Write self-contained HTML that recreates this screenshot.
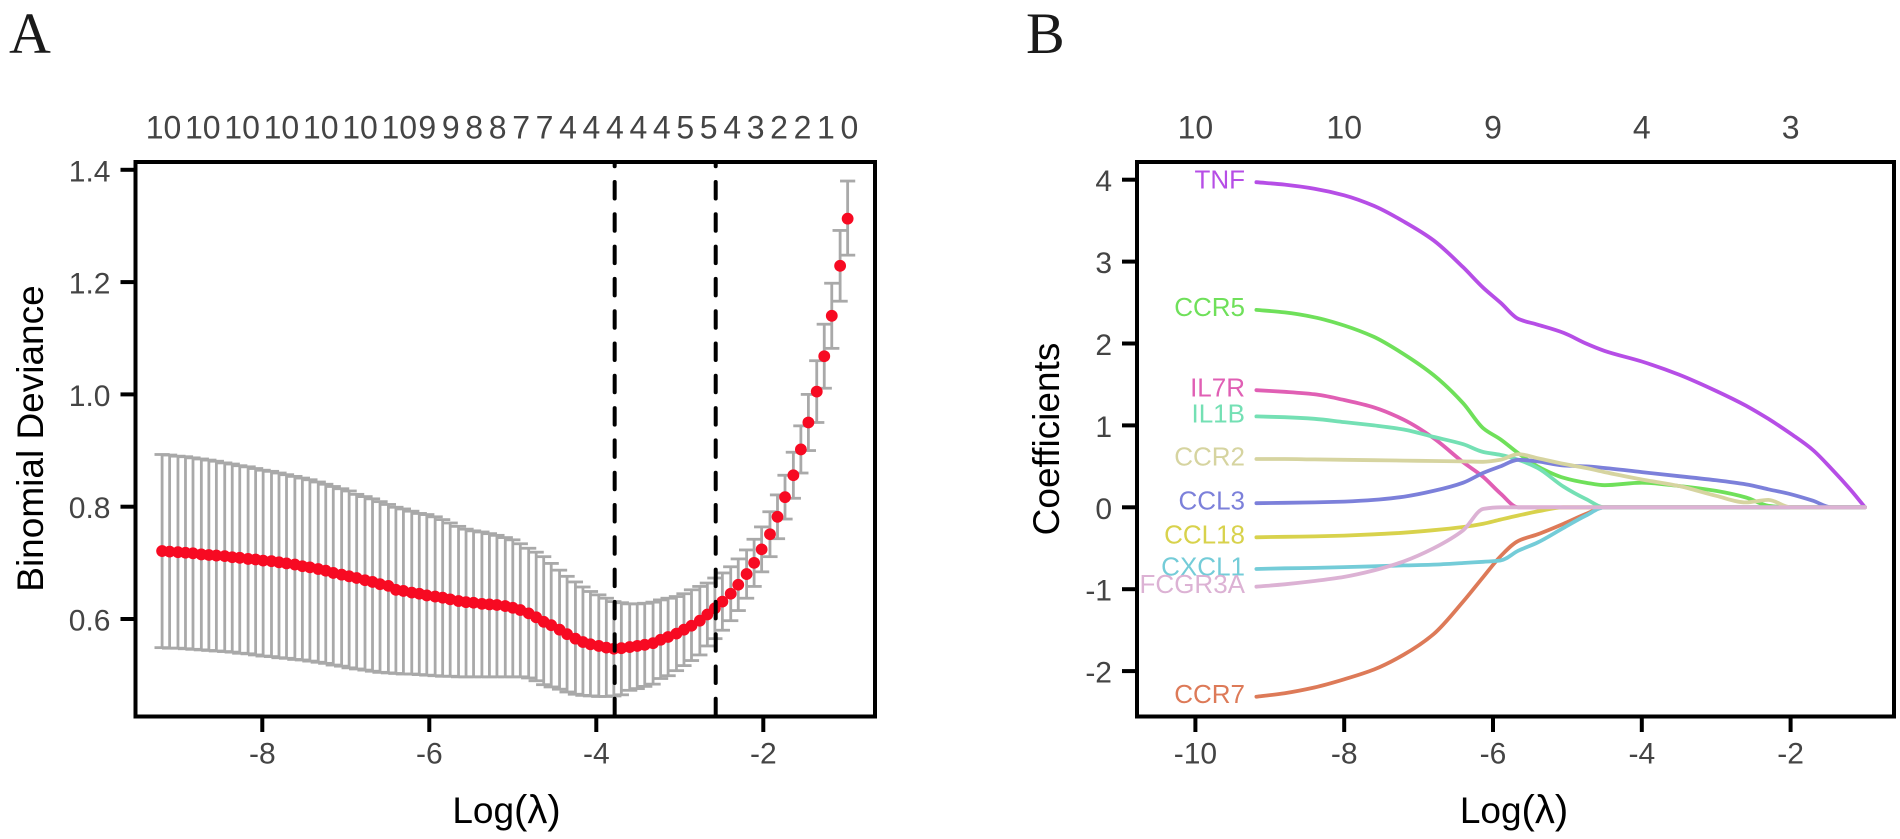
<!DOCTYPE html>
<html lang="en">
<head>
<meta charset="utf-8">
<title>LASSO regression panels</title>
<style>
  html,body{margin:0;padding:0;background:#fff;}
  svg{display:block;font-family:"Liberation Sans",sans-serif;}
</style>
</head>
<body>
<svg id="figure" xmlns="http://www.w3.org/2000/svg" width="1900" height="839" viewBox="0 0 1900 839">
  <rect x="0" y="0" width="1900" height="839" fill="#fff"/>
  <text x="9" y="53" font-family="Liberation Serif, serif" font-size="58" fill="#1a1a1a">A</text>
  <text x="1026" y="53" font-family="Liberation Serif, serif" font-size="58" fill="#1a1a1a">B</text>
  <g id="panelA"></g>
  <g id="panelB"></g>
  <text x="506.5" y="823" font-size="37" text-anchor="middle" fill="#000">Log<tspan font-size="40">(λ)</tspan></text>
  <text x="1514" y="823" font-size="37" text-anchor="middle" fill="#000">Log<tspan font-size="40">(λ)</tspan></text>
  <text transform="translate(43,438.5) rotate(-90)" font-size="37" text-anchor="middle" fill="#000">Binomial Deviance</text>
  <text transform="translate(1059,439) rotate(-90)" font-size="37" text-anchor="middle" fill="#000">Coefficients</text>
</svg>
<script>
// ---------- Panel A data ----------
const cvLogLambda = [-9.20,-9.11,-9.01,-8.92,-8.83,-8.73,-8.64,-8.55,-8.45,-8.36,
  -8.27,-8.17,-8.08,-7.99,-7.89,-7.80,-7.71,-7.61,-7.52,-7.43,
  -7.33,-7.24,-7.15,-7.05,-6.96,-6.87,-6.77,-6.68,-6.59,-6.49,
  -6.40,-6.31,-6.21,-6.12,-6.03,-5.93,-5.84,-5.75,-5.65,-5.56,
  -5.47,-5.37,-5.28,-5.19,-5.09,-5.00,-4.91,-4.81,-4.72,-4.63,
  -4.54,-4.44,-4.35,-4.25,-4.16,-4.07,-3.97,-3.88,-3.79,-3.70,
  -3.60,-3.51,-3.42,-3.32,-3.23,-3.14,-3.04,-2.95,-2.86,-2.76,
  -2.67,-2.58,-2.49,-2.39,-2.30,-2.20,-2.11,-2.02,-1.92,-1.83,
  -1.74,-1.64,-1.55,-1.46,-1.36,-1.27,-1.18,-1.08,-0.99];
const cvMean = [.721,.720,.719,.718,.717,.715,.714,.713,.712,.710,
  .709,.707,.706,.704,.703,.701,.699,.697,.694,.692,
  .689,.686,.682,.679,.676,.673,.669,.666,.662,.659,
  .652,.650,.647,.645,.642,.640,.638,.635,.632,.630,
  .629,.627,.626,.625,.623,.620,.616,.610,.603,.595,
  .589,.581,.573,.565,.559,.555,.552,.549,.547,.548,
  .550,.552,.554,.557,.563,.568,.574,.581,.588,.597,
  .608,.619,.631,.645,.661,.680,.700,.724,.751,.782,
  .817,.856,.902,.950,1.005,1.068,1.140,1.229,1.313];
const cvUpper = [.893,.892,.890,.889,.887,.885,.883,.881,.878,.876,
  .873,.871,.868,.865,.863,.860,.857,.854,.851,.848,
  .844,.840,.836,.832,.828,.822,.818,.814,.809,.804,
  .799,.796,.792,.788,.786,.782,.777,.771,.765,.760,
  .757,.755,.752,.749,.745,.741,.734,.726,.719,.711,
  .699,.687,.676,.666,.657,.649,.643,.637,.631,.629,
  .627,.627,.628,.630,.634,.637,.640,.645,.652,.658,
  .664,.673,.682,.693,.707,.723,.742,.764,.791,.821,
  .856,.897,.944,1.00,1.06,1.125,1.198,1.292,1.38];
const cvLower = [.549,.548,.548,.547,.546,.545,.544,.543,.542,.541,
  .539,.538,.536,.534,.533,.531,.530,.528,.527,.525,
  .523,.521,.518,.516,.513,.511,.509,.507,.505,.504,
  .503,.502,.502,.501,.500,.499,.498,.498,.497,.497,
  .497,.497,.497,.497,.497,.497,.497,.495,.490,.483,
  .479,.475,.470,.466,.464,.463,.462,.462,.463,.465,
  .473,.476,.480,.484,.494,.499,.508,.517,.526,.536,
  .552,.565,.580,.597,.615,.637,.658,.684,.711,.743,
  .778,.815,.860,.90,.95,1.011,1.082,1.166,1.248];
const cvReferenceLines = [-3.78,-2.57];
const cvXTicks = [-8,-6,-4,-2];
const cvYTicks = [0.6,0.8,1.0,1.2,1.4];
const cvTopCounts = ["10","10","10","10","10","10","10","9","9","8","8","7","7","4","4","4","4","4","5","5","4","3","2","2","1","0"];

// ---------- Panel B data ----------
const coefLogLambda = [-9.18,-8.8,-8.4,-8.0,-7.6,-7.2,-6.8,-6.4,-6.13,-5.9,-5.66,-5.4,-5.05,-4.75,-4.5,-4.0,-3.5,-3.0,-2.6,-2.3,-2.0,-1.7,-1.45,-1.2,-1.0];
const coefTNF    = [3.97,3.94,3.89,3.81,3.68,3.49,3.26,2.93,2.68,2.50,2.30,2.23,2.13,2.00,1.91,1.78,1.62,1.42,1.24,1.08,.90,.70,.47,.22,0];
const coefCCR7   = [-2.313,-2.27,-2.20,-2.10,-1.98,-1.80,-1.55,-1.15,-.85,-.60,-.41,-.33,-.20,-.08,0,0,0,0,0,0,0,0,0,0,0];
const coefIL7R   = [1.43,1.41,1.38,1.31,1.22,1.07,.845,.55,.37,.17,0,0,0,0,0,0,0,0,0,0,0,0,0,0,0];
const coefCCR5   = [2.41,2.38,2.32,2.22,2.08,1.87,1.615,1.27,.965,.83,.66,.50,.36,.30,.27,.30,.26,.20,.12,.02,0,0,0,0,0];
const coefIL1B   = [1.11,1.10,1.08,1.04,1.00,.95,.86,.77,.675,.64,.58,.48,.25,.10,0,0,0,0,0,0,0,0,0,0,0];
const coefCCL18  = [-.366,-.36,-.355,-.345,-.33,-.31,-.28,-.24,-.20,-.15,-.10,-.05,0,0,0,0,0,0,0,0,0,0,0,0,0];
const coefCXCL1  = [-.753,-.745,-.74,-.73,-.72,-.71,-.70,-.68,-.665,-.65,-.53,-.43,-.25,-.10,0,0,0,0,0,0,0,0,0,0,0];
const coefCCL3   = [.05,.055,.06,.07,.09,.13,.20,.30,.42,.50,.58,.56,.51,.50,.48,.43,.38,.33,.28,.22,.16,.08,0,0,0];
const coefCCR2   = [.59,.59,.585,.58,.575,.57,.565,.56,.555,.58,.65,.60,.53,.48,.43,.34,.26,.14,.06,.09,0,0,0,0,0];
const coefFCGR3A = [-.97,-.94,-.90,-.85,-.77,-.66,-.50,-.28,-.02,0,0,0,0,0,0,0,0,0,0,0,0,0,0,0,0];
const coefGenes  = ["TNF","CCR7","IL7R","CCR5","IL1B","CCL18","CXCL1","CCL3","CCR2","FCGR3A"];
const coefColors = ["#b64ee6","#dd7a58","#e05fb4","#6fe05a","#74e0b4","#d8d24c","#74ccd8","#7c80da","#d6d4a0","#dcb2d4"];
const coefSeries = [coefTNF,coefCCR7,coefIL7R,coefCCR5,coefIL1B,coefCCL18,coefCXCL1,coefCCL3,coefCCR2,coefFCGR3A];
const coefXTicks = [-10,-8,-6,-4,-2];
const coefYTicks = [-2,-1,0,1,2,3,4];
const coefTopCounts = ["10","10","9","4","3"];

// ---------- Scales ----------
const SVGNS = "http://www.w3.org/2000/svg";
function xA(v){ return 596.3 + (v + 4) * 83.5; }
function yA(v){ return 619 - (v - 0.6) * 561.5; }
function xB(v){ return 1493 + (v + 6) * 74.4; }
function yB(v){ return 507.3 - v * 81.9; }

function mk(parent, tag, attrs, text){
  const node = document.createElementNS(SVGNS, tag);
  for (const k in attrs) node.setAttribute(k, attrs[k]);
  if (text !== undefined) node.textContent = text;
  parent.appendChild(node);
  return node;
}
// Monotone cubic path through the mapped data points (no overshoot at the zero joins)
function monotonePath(px, py){
  const n = px.length, dx = [], m = [], t = [];
  for (let i = 0; i < n - 1; i++){ dx[i] = px[i+1] - px[i]; m[i] = (py[i+1] - py[i]) / dx[i]; }
  t[0] = m[0]; t[n-1] = m[n-2];
  for (let i = 1; i < n - 1; i++){
    if (m[i-1] * m[i] <= 0) t[i] = 0;
    else {
      const w1 = 2 * dx[i] + dx[i-1], w2 = dx[i] + 2 * dx[i-1];
      t[i] = (w1 + w2) / (w1 / m[i-1] + w2 / m[i]);
    }
  }
  let d = "M" + px[0].toFixed(1) + " " + py[0].toFixed(1);
  for (let i = 0; i < n - 1; i++){
    const h = dx[i] / 3;
    d += "C" + (px[i]+h).toFixed(1) + " " + (py[i]+t[i]*h).toFixed(1) + " " +
         (px[i+1]-h).toFixed(1) + " " + (py[i+1]-t[i+1]*h).toFixed(1) + " " +
         px[i+1].toFixed(1) + " " + py[i+1].toFixed(1);
  }
  return d;
}
const panelA = document.getElementById("panelA");
const panelB = document.getElementById("panelB");
const INK = "#444";
let el;

// ---------- Panel A ----------
cvLogLambda.forEach(function(v, i){
  const x = xA(v);
  el = mk(panelA, "line", {x1:x, x2:x, y1:yA(cvLower[i]), y2:yA(cvUpper[i]), stroke:"#a9a9a9", "stroke-width":2.8});
  
  
  el = mk(panelA, "line", {x1:x-7.6, x2:x+7.6, y1:yA(cvUpper[i]), y2:yA(cvUpper[i]), stroke:"#a9a9a9", "stroke-width":2.8});
  
  
  el = mk(panelA, "line", {x1:x-7.6, x2:x+7.6, y1:yA(cvLower[i]), y2:yA(cvLower[i]), stroke:"#a9a9a9", "stroke-width":2.8});
  
  
});
cvLogLambda.forEach(function(v, i){
  el = mk(panelA, "circle", {cx:xA(v), cy:yA(cvMean[i]), r:5.9, fill:"#f70a22"});
  
  
});
cvReferenceLines.forEach(function(v){
  el = mk(panelA, "line", {x1:xA(v), x2:xA(v), y1:162, y2:717, stroke:"#000", "stroke-width":4, "stroke-linecap":"round", "stroke-dasharray":"16.5 15.8", "stroke-dashoffset":12.3});
  
  
});
el = mk(panelA, "rect", {x:135.5, y:162, width:739.5, height:554.5, fill:"none", stroke:"#000", "stroke-width":4});


cvXTicks.forEach(function(v){
  el = mk(panelA, "line", {x1:xA(v), x2:xA(v), y1:716, y2:732, stroke:"#000", "stroke-width":4});
  
  
  el = mk(panelA, "text", {x:xA(v), y:763.5, "font-size":30, "text-anchor":"middle", fill:INK}, String(v));
  
  
});
cvYTicks.forEach(function(v){
  el = mk(panelA, "line", {x1:120.5, x2:135, y1:yA(v), y2:yA(v), stroke:"#000", "stroke-width":4});
  
  
  el = mk(panelA, "text", {x:110.5, y:yA(v)+11.5, "font-size":30, "text-anchor":"end", fill:INK}, v.toFixed(1));
  
  
});
let cursor = 163.5;
cvTopCounts.forEach(function(label, i){
  el = mk(panelA, "text", {x:cursor, y:138.5, "font-size":32, "text-anchor":"middle", fill:INK}, label);
  
  
  const next = cvTopCounts[i + 1];
  cursor += (label.length === 2 && next && next.length === 2) ? 39.3 : (label.length === 2 ? 28 : 23.45);
});

// ---------- Panel B ----------
coefSeries.forEach(function(series, s){
  el = mk(panelB, "path", {d:monotonePath(coefLogLambda.map(xB), series.map(yB)), fill:"none", stroke:coefColors[s], "stroke-width":3.8, "stroke-linejoin":"round", "stroke-linecap":"round"});
  
  
});
coefSeries.forEach(function(series, s){
  el = mk(panelB, "text", {x:1245, y:yB(series[0])+6.3, "font-size":26, "text-anchor":"end", fill:coefColors[s]}, coefGenes[s]);
  
  
});
el = mk(panelB, "rect", {x:1137, y:162, width:757, height:554.5, fill:"none", stroke:"#000", "stroke-width":4});


coefXTicks.forEach(function(v, i){
  el = mk(panelB, "line", {x1:xB(v), x2:xB(v), y1:716, y2:732, stroke:"#000", "stroke-width":4});
  
  
  el = mk(panelB, "text", {x:xB(v), y:763.5, "font-size":30, "text-anchor":"middle", fill:INK}, String(v));
  
  
  el = mk(panelB, "text", {x:xB(v), y:138.5, "font-size":32, "text-anchor":"middle", fill:INK}, coefTopCounts[i]);
  
  
});
coefYTicks.forEach(function(v){
  el = mk(panelB, "line", {x1:1122, x2:1137, y1:yB(v), y2:yB(v), stroke:"#000", "stroke-width":4});
  
  
  el = mk(panelB, "text", {x:1112, y:yB(v)+11.5, "font-size":30, "text-anchor":"end", fill:INK}, String(v));
  
  
});
</script>
</body>
</html>
